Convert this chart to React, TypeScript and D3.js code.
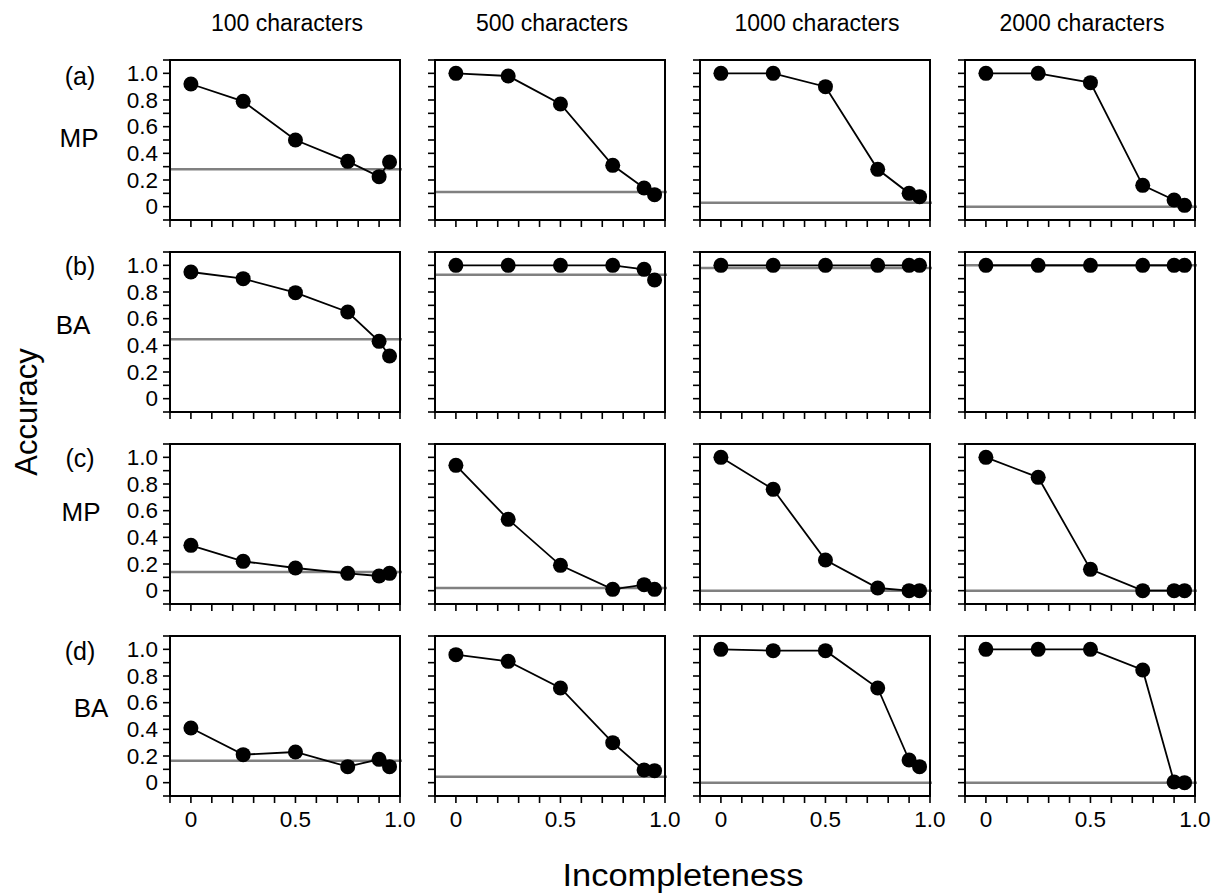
import React from "react";
import * as d3 from "d3";

// ---- data ----
const columns = ["100 characters", "500 characters", "1000 characters", "2000 characters"];
const rowTags = ["(a)", "(b)", "(c)", "(d)"];
const rowMethods = ["MP", "BA", "MP", "BA"];
const incompleteness = [0, 0.25, 0.5, 0.75, 0.9, 0.95];

// accuracy[row][col] = values at each incompleteness level
const rowA = [
  [0.92, 0.79, 0.5, 0.34, 0.225, 0.335],
  [1.0, 0.98, 0.77, 0.31, 0.14, 0.09],
  [1.0, 1.0, 0.9, 0.28, 0.1, 0.075],
  [1.0, 1.0, 0.93, 0.16, 0.05, 0.01],
];
const rowB = [
  [0.95, 0.9, 0.795, 0.65, 0.43, 0.32],
  [1.0, 1.0, 1.0, 1.0, 0.97, 0.89],
  [1.0, 1.0, 1.0, 1.0, 1.0, 1.0],
  [1.0, 1.0, 1.0, 1.0, 1.0, 1.0],
];
const rowC = [
  [0.34, 0.22, 0.17, 0.13, 0.11, 0.13],
  [0.94, 0.535, 0.19, 0.01, 0.045, 0.01],
  [1.0, 0.76, 0.23, 0.02, 0.0, 0.0],
  [1.0, 0.85, 0.16, 0.0, 0.0, 0.0],
];
const rowD = [
  [0.41, 0.21, 0.23, 0.12, 0.175, 0.12],
  [0.96, 0.91, 0.71, 0.3, 0.095, 0.09],
  [1.0, 0.99, 0.99, 0.71, 0.17, 0.12],
  [1.0, 1.0, 1.0, 0.845, 0.005, 0.0],
];
const accuracy = [rowA, rowB, rowC, rowD];

// chance-level (gray reference line) per row/col
const baselines = [
  [0.28, 0.11, 0.03, 0.0],
  [0.445, 0.93, 0.98, 1.0],
  [0.14, 0.02, 0.0, 0.0],
  [0.165, 0.045, 0.0, 0.0],
];

const yTickLabels = ["0", "0.2", "0.4", "0.6", "0.8", "1.0"];
const xTickLabels = ["0", "0.5", "1.0"];

// ---- layout ----
const W = 1217;
const H = 896;
const panelLeft0 = 170;
const panelStepX = 265;
const panelW = 230;
const panelTop0 = 60;
const panelStepY = 192;
const panelH = 160;
const font = "'Liberation Sans', Arial, Helvetica, sans-serif";

// row label positions (x center, baseline offsets from panel top)
const tagPos = [
  { x: 80, y: 25 },
  { x: 80, y: 23 },
  { x: 80, y: 23 },
  { x: 80, y: 24 },
];
const methodPos = [
  { x: 79, y: 87 },
  { x: 73, y: 82 },
  { x: 81, y: 77 },
  { x: 91, y: 81 },
];

export default function App() {
  const x = d3.scaleLinear().domain([-0.1, 1.0]).range([0, panelW]);
  const y = d3.scaleLinear().domain([-0.1, 1.1]).range([panelH, 0]);
  const xTicks = d3.range(-1, 11).map((i) => i / 10);
  const yTicks = d3.range(-1, 12).map((i) => i / 10);
  const line = d3
    .line<number>()
    .x((_, i) => x(incompleteness[i]))
    .y((d) => y(d));

  return (
    <svg
      width={W}
      height={H}
      style={{ position: "absolute", left: 0, top: 0, background: "#fff" }}
      fontFamily={font}
    >
      <rect width={W} height={H} fill="#fff" />
      {columns.map((c, ci) => (
        <text
          key={c}
          x={panelLeft0 + ci * panelStepX + panelW / 2 + 2}
          y={31}
          fontSize={23}
          textAnchor="middle"
          fill="#000"
        >
          {c}
        </text>
      ))}
      {accuracy.map((row, ri) => {
        const top = panelTop0 + ri * panelStepY;
        return (
          <g key={ri}>
            <text x={tagPos[ri].x} y={top + tagPos[ri].y} fontSize={25} textAnchor="middle">
              {rowTags[ri]}
            </text>
            <text x={methodPos[ri].x} y={top + methodPos[ri].y} fontSize={26} textAnchor="middle">
              {rowMethods[ri]}
            </text>
            {row.map((vals, ci) => {
              const left = panelLeft0 + ci * panelStepX;
              return (
                <g key={ci} transform={`translate(${left},${top})`}>
                  {yTicks.map((t) => (
                    <line key={"y" + t} x1={-7} x2={0} y1={y(t)} y2={y(t)} stroke="#000" strokeWidth={1.6} />
                  ))}
                  {xTicks.map((t) => (
                    <line key={"x" + t} x1={x(t)} x2={x(t)} y1={panelH} y2={panelH + 7} stroke="#000" strokeWidth={1.6} />
                  ))}
                  {ci === 0 &&
                    yTickLabels.map((l) => (
                      <text key={l} x={-12} y={y(+l) + 7.8} fontSize={22.5} textAnchor="end">
                        {l}
                      </text>
                    ))}
                  {ri === 3 &&
                    xTickLabels.map((l) => (
                      <text key={l} x={x(+l)} y={panelH + 31} fontSize={22.5} textAnchor="middle">
                        {l}
                      </text>
                    ))}
                  <line
                    x1={x(-0.1)}
                    x2={x(1.0) + 2}
                    y1={y(baselines[ri][ci])}
                    y2={y(baselines[ri][ci])}
                    stroke="#808080"
                    strokeWidth={2.5}
                  />
                  <path d={line(vals) || ""} fill="none" stroke="#000" strokeWidth={1.8} />
                  {vals.map((v, i) => (
                    <circle key={i} cx={x(incompleteness[i])} cy={y(v)} r={7.5} fill="#000" />
                  ))}
                  <rect x={0} y={0} width={panelW} height={panelH} fill="none" stroke="#000" strokeWidth={2} />
                </g>
              );
            })}
          </g>
        );
      })}
      <text transform={`translate(37,412) rotate(-90)`} fontSize={31} textAnchor="middle">
        Accuracy
      </text>
      <text x={683} y={886} fontSize={31} textAnchor="middle" textLength={241} lengthAdjust="spacingAndGlyphs">
        Incompleteness
      </text>
    </svg>
  );
}
